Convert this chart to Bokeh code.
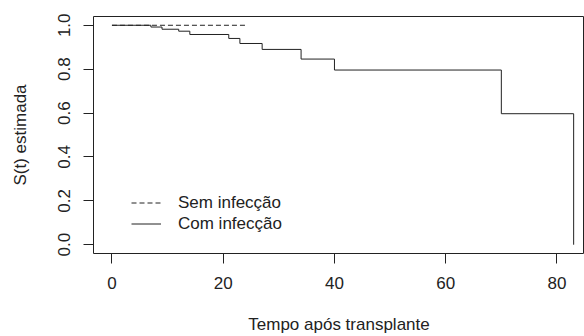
from bokeh.plotting import figure
from bokeh.models import FixedTicker, Legend, LegendItem, Range1d, CustomJSTickFormatter
from bokeh.embed import file_html
from bokeh.resources import INLINE

# Kaplan-Meier estimates
sem_t = [0, 24]
sem_s = [1.0, 1.0]
com_t = [0, 7, 9, 12, 14, 21, 23, 27, 34, 40, 70, 83]
com_s = [1.0, 0.992, 0.982, 0.973, 0.958, 0.94, 0.917, 0.89, 0.846, 0.796, 0.597, 0.0]

x_ticks = [0, 20, 40, 60, 80]
y_ticks = [0.0, 0.2, 0.4, 0.6, 0.8, 1.0]
series_names = ["Sem infecção", "Com infecção"]
x_title = "Tempo após transplante"
y_title = "S(t) estimada"

FONT = "Liberation Sans"
FS = "17px"

p = figure(width=584, height=336, output_backend="svg", toolbar_location=None,
           x_range=Range1d(-3.32, 84.95), y_range=Range1d(-0.04, 1.04),
           min_border_left=93, min_border_right=0, min_border_top=16, min_border_bottom=81)
p.grid.visible = False
p.background_fill_color = "white"
p.border_fill_color = "white"
p.outline_line_color = "#222222"
p.outline_line_width = 1

r1 = p.step(sem_t, sem_s, mode="after", line_color="#222222", line_width=1, line_dash="5 3")
r2 = p.step(com_t, com_s, mode="after", line_color="#222222", line_width=1)

for ax in (p.xaxis[0], p.yaxis[0]):
    ax.axis_line_color = None
    ax.major_tick_line_color = "#222222"
    ax.major_tick_out = 10
    ax.major_tick_in = 0
    ax.minor_tick_line_color = None
    ax.major_label_text_font = FONT
    ax.major_label_text_font_size = FS
    ax.major_label_text_color = "#222222"
    ax.axis_label_text_font = FONT
    ax.axis_label_text_font_size = FS
    ax.axis_label_text_font_style = "normal"
    ax.axis_label_text_color = "#222222"

p.xaxis[0].ticker = FixedTicker(ticks=x_ticks)
p.xaxis[0].major_label_standoff = 13
p.xaxis[0].axis_label = x_title
p.xaxis[0].axis_label_standoff = 23

p.yaxis[0].ticker = FixedTicker(ticks=y_ticks)
p.yaxis[0].formatter = CustomJSTickFormatter(code="return tick.toFixed(1);")
p.yaxis[0].major_label_orientation = "vertical"
p.yaxis[0].major_label_standoff = 13
p.yaxis[0].axis_label = y_title
p.yaxis[0].axis_label_standoff = 26

legend = Legend(items=[LegendItem(label=series_names[0], renderers=[r1]),
                       LegendItem(label=series_names[1], renderers=[r2])],
                location=(38, 19), padding=0, margin=0, spacing=0,
                glyph_width=30, glyph_height=21, label_height=21, label_standoff=17,
                label_text_font=FONT, label_text_font_size=FS, label_text_color="#222222",
                border_line_color=None, background_fill_alpha=0)
p.add_layout(legend)

open("out.html", "w").write(file_html(p, INLINE))
